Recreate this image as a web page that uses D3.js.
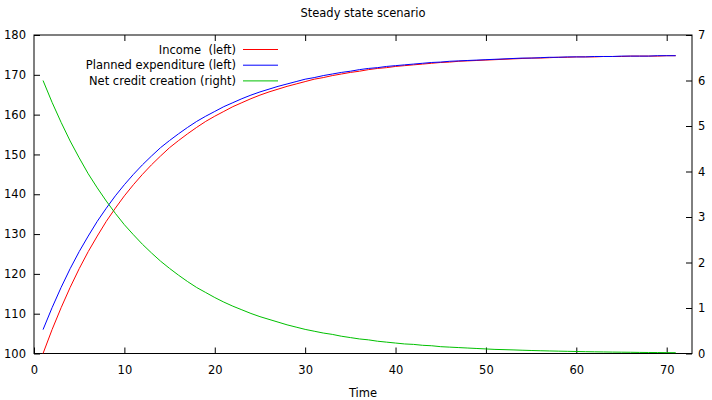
<!DOCTYPE html>
<html>

<head>
    <title>Steady state scenario</title>
    <script src="https://d3js.org/d3.v7.min.js"></script>
    <style>
        body { margin: 0; background: #fff; }
        text { font-family: "DejaVu Sans", sans-serif; font-size: 11.5px; fill: #000; }
        .axis .domain { display: none; }
        .axis line { stroke: #000; }
    </style>
</head>

<body>
    <svg id="chart" width="712" height="400"></svg>

    <script>
        // data, t = 1..71
        const time = d3.range(1, 72);
        const income = [
            100.0, 106.0, 111.5, 116.6, 121.3, 125.6, 129.5, 133.2, 136.5, 139.6,
            142.4, 145.0, 147.4, 149.6, 151.7, 153.5, 155.2, 156.8, 158.3, 159.6,
            160.8, 162.0, 163.0, 164.0, 164.9, 165.7, 166.4, 167.1, 167.7, 168.3,
            168.9, 169.3, 169.8, 170.2, 170.6, 170.9, 171.3, 171.6, 171.8, 172.1,
            172.3, 172.5, 172.7, 172.9, 173.1, 173.2, 173.4, 173.5, 173.6, 173.7,
            173.8, 173.9, 174.0, 174.1, 174.2, 174.2, 174.3, 174.4, 174.4, 174.5,
            174.5, 174.5, 174.6, 174.6, 174.6, 174.7, 174.7, 174.7, 174.7, 174.8,
            174.8
        ];
        const expenditure = [
            106.0, 111.5, 116.6, 121.3, 125.6, 129.5, 133.2, 136.5, 139.6, 142.4,
            145.0, 147.4, 149.6, 151.7, 153.5, 155.2, 156.8, 158.3, 159.6, 160.8,
            162.0, 163.0, 164.0, 164.9, 165.7, 166.4, 167.1, 167.7, 168.3, 168.9,
            169.3, 169.8, 170.2, 170.6, 170.9, 171.3, 171.6, 171.8, 172.1, 172.3,
            172.5, 172.7, 172.9, 173.1, 173.2, 173.4, 173.5, 173.6, 173.7, 173.8,
            173.9, 174.0, 174.1, 174.2, 174.2, 174.3, 174.4, 174.4, 174.5, 174.5,
            174.5, 174.6, 174.6, 174.6, 174.7, 174.7, 174.7, 174.7, 174.8, 174.8,
            174.8
        ];
        const credit = [
            6.00, 5.52, 5.08, 4.67, 4.30, 3.95, 3.64, 3.35, 3.08, 2.83,
            2.61, 2.40, 2.21, 2.03, 1.87, 1.72, 1.58, 1.45, 1.34, 1.23,
            1.13, 1.04, 0.96, 0.88, 0.81, 0.75, 0.69, 0.63, 0.58, 0.53,
            0.49, 0.45, 0.42, 0.38, 0.35, 0.32, 0.30, 0.27, 0.25, 0.23,
            0.21, 0.20, 0.18, 0.17, 0.15, 0.14, 0.13, 0.12, 0.11, 0.10,
            0.09, 0.085, 0.079, 0.072, 0.066, 0.061, 0.056, 0.052, 0.048, 0.044,
            0.040, 0.037, 0.034, 0.031, 0.029, 0.027, 0.024, 0.022, 0.021, 0.019,
            0.018
        ];
        const xTicks = [0, 10, 20, 30, 40, 50, 60, 70];
        const leftTicks = [100, 110, 120, 130, 140, 150, 160, 170, 180];
        const rightTicks = [0, 1, 2, 3, 4, 5, 6, 7];
        const seriesNames = ["Income  (left)", "Planned expenditure (left)", "Net credit creation (right)"];
        const seriesColors = ["#ff0000", "#0000ff", "#00c000"];

        const svg = d3.select("#chart");
        const margin = { top: 35, right: 20, bottom: 46.5, left: 34 };
        const width = 712 - margin.left - margin.right;
        const height = 400 - margin.top - margin.bottom;
        const chart = svg.append("g")
            .attr("transform", "translate(" + margin.left + "," + margin.top + ")");

        const xScale = d3.scaleLinear().domain([0, 72.8]).range([0, width]);
        const yLeft = d3.scaleLinear().domain([100, 180]).range([height, 0]);
        const yRight = d3.scaleLinear().domain([0, 7]).range([height, 0]);

        // axes, ticks pointing inward
        chart.append("g").attr("class", "axis")
            .attr("transform", `translate(0,${height})`)
            .call(d3.axisBottom(xScale).tickValues(xTicks).tickSizeInner(-6).tickSizeOuter(0).tickPadding(12));
        chart.append("g").attr("class", "axis")
            .call(d3.axisTop(xScale).tickValues(xTicks.slice(1)).tickSizeInner(-6).tickSizeOuter(0).tickFormat(""));
        chart.append("g").attr("class", "axis")
            .call(d3.axisLeft(yLeft).tickValues(leftTicks).tickSizeInner(-6).tickSizeOuter(0).tickPadding(8));
        chart.append("g").attr("class", "axis")
            .attr("transform", `translate(${width},0)`)
            .call(d3.axisRight(yRight).tickValues(rightTicks).tickFormat(d3.format("d"))
                .tickSizeInner(-6).tickSizeOuter(0).tickPadding(6));

        chart.selectAll(".axis text").style("font-size", "11.5px").style("font-family", "DejaVu Sans");

        chart.append("rect")
            .attr("width", width)
            .attr("height", height)
            .attr("fill", "none")
            .attr("stroke", "#000")
            .attr("stroke-width", 1);

        const lineLeft = d3.line()
            .x((d, i) => xScale(time[i]))
            .y(d => yLeft(d));
        const lineRight = d3.line()
            .x((d, i) => xScale(time[i]))
            .y(d => yRight(d));

        chart.append("path")
            .attr("d", lineLeft(income))
            .attr("fill", "none")
            .attr("stroke", seriesColors[0]);
        chart.append("path")
            .attr("d", lineLeft(expenditure))
            .attr("fill", "none")
            .attr("stroke", seriesColors[1]);
        chart.append("path")
            .attr("d", lineRight(credit))
            .attr("fill", "none")
            .attr("stroke", seriesColors[2]);

        // legend
        const legend = svg.append("g").attr("transform", "translate(236,49.5)");
        seriesNames.forEach((name, i) => {
            const row = legend.append("g").attr("transform", `translate(0,${i * 15.7})`);
            row.append("text")
                .attr("x", 0)
                .attr("y", 4)
                .attr("text-anchor", "end")
                .style("white-space", "pre")
                .attr("xml:space", "preserve")
                .text(name);
            row.append("line")
                .attr("x1", 7).attr("x2", 42)
                .attr("y1", 0).attr("y2", 0)
                .attr("stroke", seriesColors[i]);
        });

        svg.append("text")
            .attr("x", margin.left + width / 2)
            .attr("y", 17)
            .attr("text-anchor", "middle")
            .text("Steady state scenario");

        svg.append("text")
            .attr("x", margin.left + width / 2)
            .attr("y", 397)
            .attr("text-anchor", "middle")
            .text("Time");
    </script>

</body>

</html>
